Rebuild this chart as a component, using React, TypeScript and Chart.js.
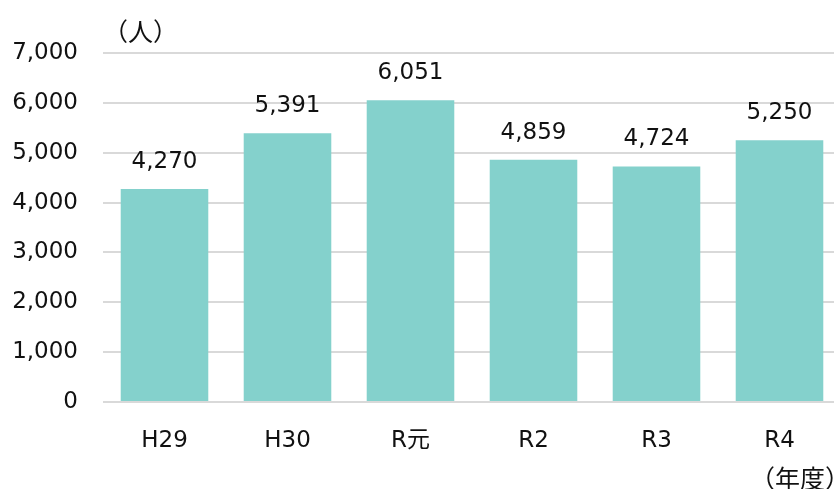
import React, { useEffect, useRef } from "react";
import { Chart, registerables } from "chart.js";

Chart.register(...registerables);

const categories = ["H29", "H30", "R元", "R2", "R3", "R4"];
const values = [4270, 5391, 6051, 4859, 4724, 5250];
const yTicks = [0, 1000, 2000, 3000, 4000, 5000, 6000, 7000];
const yUnit = "（人）";
const xUnit = "（年度）";

const FONT = "'DejaVu Sans', 'Noto Sans CJK JP', sans-serif";
const CJK = "'Noto Sans CJK JP', sans-serif";

export default function App() {
  const ref = useRef<HTMLCanvasElement | null>(null);
  useEffect(() => {
    if (!ref.current) return;
    const labelPlugin = {
      id: "labels",
      afterDatasetsDraw(chart: any) {
        const ctx = chart.ctx;
        ctx.save();
        ctx.font = `23px ${FONT}`;
        ctx.fillStyle = "#111";
        ctx.textAlign = "center";
        ctx.textBaseline = "alphabetic";
        const meta = chart.getDatasetMeta(0);
        meta.data.forEach((bar: any, i: number) => {
          ctx.fillText(values[i].toLocaleString("en-US"), bar.x, bar.y - 21);
        });
        ctx.font = `25px ${CJK}`;
        ctx.textBaseline = "middle";
        ctx.fillText(yUnit, 140.5, 31);
        ctx.fillText(xUnit, 800, 478);
        ctx.restore();
      },
    };
    const chart = new Chart(ref.current, {
      type: "bar",
      data: {
        labels: categories,
        datasets: [
          {
            data: values,
            backgroundColor: "#84d1cc",
            categoryPercentage: 0.712,
            barPercentage: 1,
          },
        ],
      },
      options: {
        animation: false,
        responsive: false,
        maintainAspectRatio: false,
        layout: { padding: { top: 53, right: 9, bottom: 0, left: 0 } },
        plugins: { legend: { display: false }, tooltip: { enabled: false } },
        scales: {
          x: {
            grid: { display: false },
            border: { display: false },
            ticks: {
              font: { family: FONT, size: 23 },
              color: "#111",
              padding: 17,
            },
            afterFit(scale: any) {
              scale.height = 87;
            },
          },
          y: {
            min: 0,
            max: 7000,
            afterBuildTicks(scale: any) {
              scale.ticks = yTicks.map((v) => ({ value: v }));
            },
            grid: { color: "#d9d9d9", lineWidth: 2, drawTicks: false },
            border: { display: false },
            ticks: {
              font: { family: FONT, size: 23 },
              color: "#111",
              padding: 25,
              callback: (v: any) => Number(v).toLocaleString("en-US"),
            },
            afterFit(scale: any) {
              scale.width = 103;
            },
          },
        },
      },
      plugins: [labelPlugin],
    });
    return () => chart.destroy();
  }, []);
  return (
    <div
      style={{
        position: "absolute",
        left: 0,
        top: 0,
        width: 834,
        height: 489,
        overflow: "hidden",
        background: "#fff",
      }}
    >
      <canvas ref={ref} width={850} height={489} style={{ display: "block" }} />
    </div>
  );
}
